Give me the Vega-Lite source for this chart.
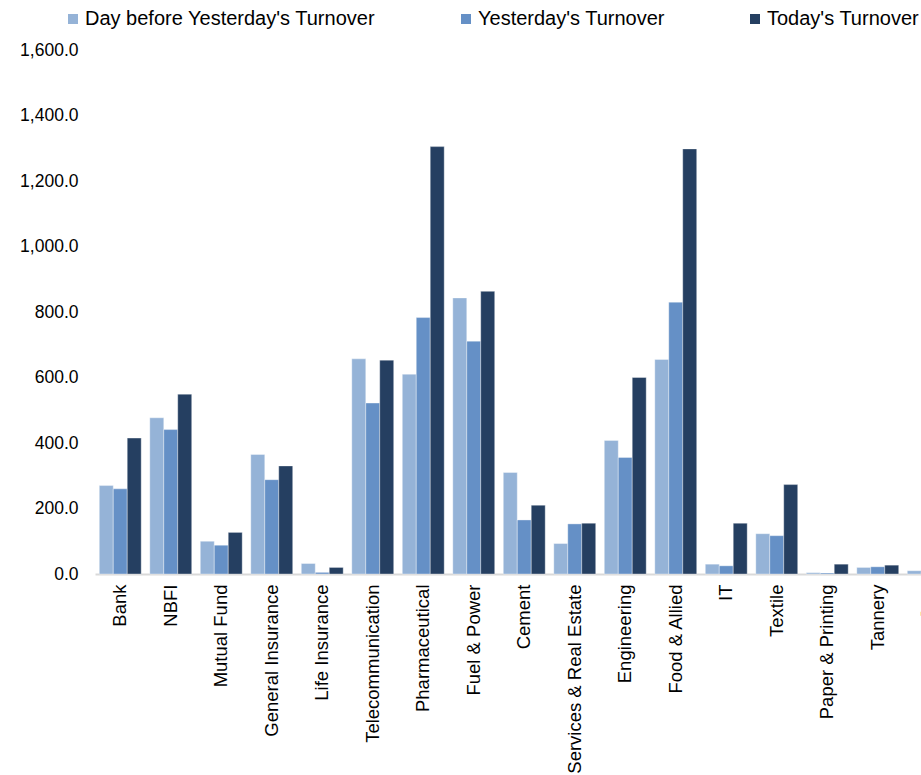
{
  "$schema": "https://vega.github.io/schema/vega-lite/v6.json",
  "autosize": {"type": "none"},
  "width": 826,
  "height": 524,
  "padding": {"left": 95, "top": 50, "right": 0, "bottom": 201},
  "background": "white",
  "config": {
    "font": "Liberation Sans",
    "view": {"stroke": null}
  },
  "data": {
    "values": [
      {"sector": "Bank", "series": "Day before Yesterday's Turnover", "value": 270},
      {"sector": "Bank", "series": "Yesterday's Turnover", "value": 260},
      {"sector": "Bank", "series": "Today's Turnover", "value": 415},
      {"sector": "NBFI", "series": "Day before Yesterday's Turnover", "value": 477},
      {"sector": "NBFI", "series": "Yesterday's Turnover", "value": 441},
      {"sector": "NBFI", "series": "Today's Turnover", "value": 549},
      {"sector": "Mutual Fund", "series": "Day before Yesterday's Turnover", "value": 100},
      {"sector": "Mutual Fund", "series": "Yesterday's Turnover", "value": 88},
      {"sector": "Mutual Fund", "series": "Today's Turnover", "value": 127},
      {"sector": "General Insurance", "series": "Day before Yesterday's Turnover", "value": 365},
      {"sector": "General Insurance", "series": "Yesterday's Turnover", "value": 288},
      {"sector": "General Insurance", "series": "Today's Turnover", "value": 330},
      {"sector": "Life Insurance", "series": "Day before Yesterday's Turnover", "value": 32},
      {"sector": "Life Insurance", "series": "Yesterday's Turnover", "value": 5},
      {"sector": "Life Insurance", "series": "Today's Turnover", "value": 20},
      {"sector": "Telecommunication", "series": "Day before Yesterday's Turnover", "value": 657},
      {"sector": "Telecommunication", "series": "Yesterday's Turnover", "value": 522},
      {"sector": "Telecommunication", "series": "Today's Turnover", "value": 653},
      {"sector": "Pharmaceutical", "series": "Day before Yesterday's Turnover", "value": 610},
      {"sector": "Pharmaceutical", "series": "Yesterday's Turnover", "value": 783},
      {"sector": "Pharmaceutical", "series": "Today's Turnover", "value": 1305},
      {"sector": "Fuel & Power", "series": "Day before Yesterday's Turnover", "value": 843},
      {"sector": "Fuel & Power", "series": "Yesterday's Turnover", "value": 711},
      {"sector": "Fuel & Power", "series": "Today's Turnover", "value": 863},
      {"sector": "Cement", "series": "Day before Yesterday's Turnover", "value": 310},
      {"sector": "Cement", "series": "Yesterday's Turnover", "value": 165},
      {"sector": "Cement", "series": "Today's Turnover", "value": 210},
      {"sector": "Services & Real Estate", "series": "Day before Yesterday's Turnover", "value": 93},
      {"sector": "Services & Real Estate", "series": "Yesterday's Turnover", "value": 153},
      {"sector": "Services & Real Estate", "series": "Today's Turnover", "value": 155},
      {"sector": "Engineering", "series": "Day before Yesterday's Turnover", "value": 408},
      {"sector": "Engineering", "series": "Yesterday's Turnover", "value": 356},
      {"sector": "Engineering", "series": "Today's Turnover", "value": 600},
      {"sector": "Food & Allied", "series": "Day before Yesterday's Turnover", "value": 655},
      {"sector": "Food & Allied", "series": "Yesterday's Turnover", "value": 830},
      {"sector": "Food & Allied", "series": "Today's Turnover", "value": 1298},
      {"sector": "IT", "series": "Day before Yesterday's Turnover", "value": 30},
      {"sector": "IT", "series": "Yesterday's Turnover", "value": 25},
      {"sector": "IT", "series": "Today's Turnover", "value": 155},
      {"sector": "Textile", "series": "Day before Yesterday's Turnover", "value": 123},
      {"sector": "Textile", "series": "Yesterday's Turnover", "value": 117},
      {"sector": "Textile", "series": "Today's Turnover", "value": 273},
      {"sector": "Paper & Printing", "series": "Day before Yesterday's Turnover", "value": 4},
      {"sector": "Paper & Printing", "series": "Yesterday's Turnover", "value": 3},
      {"sector": "Paper & Printing", "series": "Today's Turnover", "value": 30},
      {"sector": "Tannery", "series": "Day before Yesterday's Turnover", "value": 20},
      {"sector": "Tannery", "series": "Yesterday's Turnover", "value": 22},
      {"sector": "Tannery", "series": "Today's Turnover", "value": 27},
      {"sector": "Jute", "series": "Day before Yesterday's Turnover", "value": 10},
      {"sector": "Jute", "series": "Yesterday's Turnover", "value": 6},
      {"sector": "Jute", "series": "Today's Turnover", "value": 8}
    ]
  },
  "mark": {"type": "bar", "stroke": "#ffffff", "strokeOpacity": 0.6, "strokeWidth": 0.6},
  "encoding": {
    "x": {
      "field": "sector",
      "type": "nominal",
      "sort": null,
      "scale": {"range": [0, 858.5], "paddingInner": 0.17, "paddingOuter": 0.085},
      "axis": {
        "title": null,
        "labelAngle": -90,
        "labelFontSize": 18.5,
        "labelColor": "#000000",
        "labelPadding": 10,
        "ticks": false,
        "domainColor": "#D9D9D9",
        "domainWidth": 2,
        "labelLimit": 300
      }
    },
    "xOffset": {
      "field": "series",
      "type": "nominal",
      "sort": ["Day before Yesterday's Turnover", "Yesterday's Turnover", "Today's Turnover"],
      "scale": {"paddingInner": 0, "paddingOuter": 0}
    },
    "y": {
      "field": "value",
      "type": "quantitative",
      "scale": {"domain": [0, 1600], "nice": false},
      "axis": {
        "title": null,
        "values": [0, 200, 400, 600, 800, 1000, 1200, 1400, 1600],
        "format": ",.1f",
        "grid": false,
        "domain": false,
        "ticks": false,
        "labelFontSize": 17.5,
        "labelColor": "#000000",
        "labelPadding": 17
      }
    },
    "color": {
      "field": "series",
      "type": "nominal",
      "sort": ["Day before Yesterday's Turnover", "Yesterday's Turnover", "Today's Turnover"],
      "scale": {
        "domain": ["Day before Yesterday's Turnover", "Yesterday's Turnover", "Today's Turnover"],
        "range": ["#95B3D7", "#6590C6", "#253F61"]
      },
      "legend": {
        "title": null,
        "orient": "none",
        "legendX": -32,
        "legendY": -41,
        "direction": "horizontal",
        "columns": 3,
        "symbolType": "square",
        "symbolSize": 100,
        "symbolStrokeWidth": 0,
        "labelFontSize": 20,
        "labelColor": "#000000",
        "labelOffset": 2,
        "labelLimit": 400,
        "columnPadding": 80
      }
    }
  }
}
